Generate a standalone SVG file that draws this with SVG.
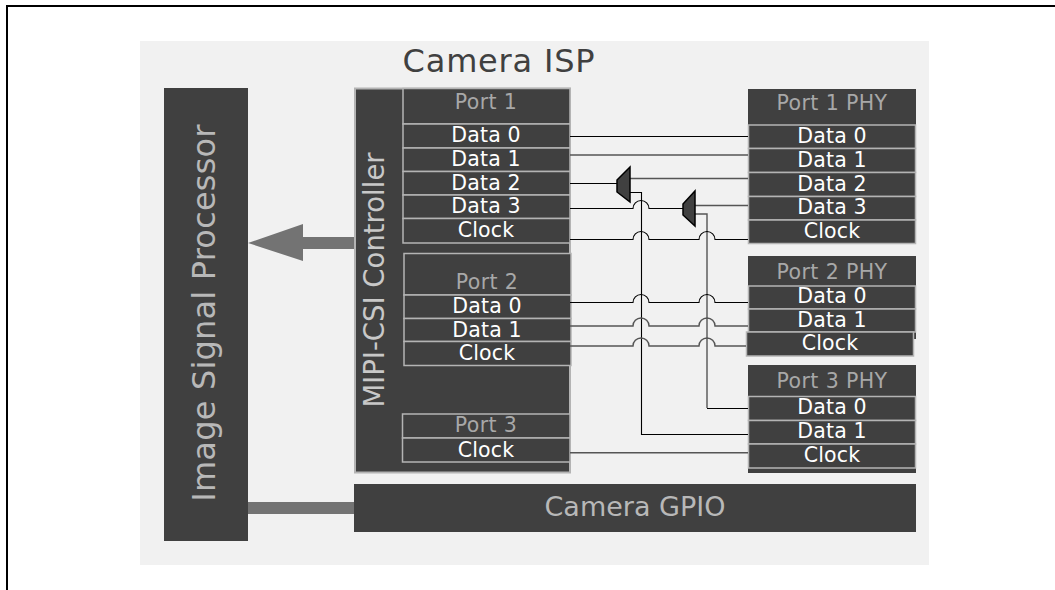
<svg xmlns="http://www.w3.org/2000/svg" width="1055" height="590" viewBox="0 0 1055 590">
<style>
text{font-family:"DejaVu Sans",Verdana,sans-serif;text-anchor:middle}
.d{fill:#404040}
.r{fill:#404040;stroke:#b4b4b4;stroke-width:1.5}
.t{fill:#fff;font-size:20.5px;letter-spacing:.2px}
.g{fill:#a8a8a8;font-size:20.5px;letter-spacing:.4px}
.w{fill:none;stroke:#000;stroke-width:1.1}
.w2{fill:none;stroke:#555;stroke-width:1.4}
.m{fill:#404040;stroke:#000;stroke-width:1.5}
</style>
<path d="M7 590V6H1055" fill="none" stroke="#000" stroke-width="2"/>
<rect x="140" y="41" width="789" height="524" fill="#f1f1f1"/>
<text x="499" y="72" font-size="32" letter-spacing=".8" fill="#404040">Camera ISP</text>
<g id="isp"><rect class="d" x="164" y="88" width="84" height="453"/>
<text transform="translate(215 313) rotate(-90)" font-size="32" letter-spacing=".2" fill="#b8b8b8">Image Signal Processor</text></g>
<g id="gpio"><rect class="d" x="354" y="484" width="562" height="48"/>
<text x="635" y="516" font-size="27" fill="#b8b8b8">Camera GPIO</text></g>
<g id="mipi"><rect x="355" y="88.500" width="215" height="384" fill="#404040" stroke="#b4b4b4" stroke-width="2"/>
<text transform="translate(384 280) rotate(-90)" font-size="27.500" fill="#c8c8c8">MIPI-CSI Controller</text></g>
<g id="port1">
<rect class="r" x="403" y="88.500" width="167" height="35.500"/>
<rect class="r" x="403" y="124" width="167" height="24"/>
<rect class="r" x="403" y="148" width="167" height="23.500"/>
<rect class="r" x="403" y="171.500" width="167" height="23.500"/>
<rect class="r" x="403" y="195" width="167" height="23.500"/>
<rect class="r" x="403" y="218.500" width="167" height="24.500"/>
<text class="g" x="486" y="109">Port 1</text>
<text class="t" x="486" y="142">Data 0</text><text class="t" x="486" y="166">Data 1</text><text class="t" x="486" y="189.500">Data 2</text><text class="t" x="486" y="213">Data 3</text><text class="t" x="486" y="237">Clock</text>
</g>
<g id="port2">
<rect class="r" x="404" y="253.500" width="167" height="41.500"/>
<rect class="r" x="404" y="295" width="167" height="23.500"/>
<rect class="r" x="404" y="318.500" width="167" height="23"/>
<rect class="r" x="404" y="341.500" width="167" height="24"/>
<text class="g" x="487" y="289">Port 2</text>
<text class="t" x="487" y="313">Data 0</text><text class="t" x="487" y="337">Data 1</text><text class="t" x="487" y="360">Clock</text>
</g>
<g id="port3">
<rect class="r" x="402.500" y="414" width="167.500" height="24"/>
<rect class="r" x="402.500" y="438" width="167.500" height="24"/>
<text class="g" x="486" y="432">Port 3</text>
<text class="t" x="486" y="457">Clock</text>
</g>
<g id="port1phy">
<rect class="d" x="748" y="89" width="168" height="36"/>
<rect class="r" x="748.500" y="125" width="167" height="23.500"/>
<rect class="r" x="748.500" y="148.500" width="167" height="24"/>
<rect class="r" x="748.500" y="172.500" width="167" height="24"/>
<rect class="r" x="748.500" y="196.500" width="167" height="23.500"/>
<rect class="r" x="748.500" y="220" width="167" height="23.500"/>
<text class="g" x="832" y="110">Port 1 PHY</text>
<text class="t" x="832" y="143">Data 0</text><text class="t" x="832" y="167">Data 1</text><text class="t" x="832" y="191">Data 2</text><text class="t" x="832" y="214">Data 3</text><text class="t" x="832" y="238">Clock</text>
</g>
<g id="port2phy">
<rect class="d" x="748" y="256" width="168" height="83"/>
<rect class="r" x="748.500" y="286" width="167" height="23"/>
<rect class="r" x="748.500" y="309" width="167" height="23"/>
<rect class="r" x="746.500" y="332" width="167" height="24"/>
<text class="g" x="832" y="279">Port 2 PHY</text>
<text class="t" x="832" y="303">Data 0</text><text class="t" x="832" y="327">Data 1</text><text class="t" x="830" y="350">Clock</text>
</g>
<g id="port3phy">
<rect class="d" x="748" y="365" width="168" height="108"/>
<rect class="r" x="748.500" y="396.500" width="167" height="24"/>
<rect class="r" x="748.500" y="420.500" width="167" height="23.500"/>
<rect class="r" x="748.500" y="444" width="167" height="24"/>
<text class="g" x="832" y="388">Port 3 PHY</text>
<text class="t" x="832" y="414">Data 0</text><text class="t" x="832" y="438">Data 1</text><text class="t" x="832" y="462">Clock</text>
</g>
<g id="connectors">
<path class="w" d="M570 136.500H748"/>
<path class="w2" d="M570 155H748"/>
<path class="w" d="M570 183.500H617"/>
<path class="w2" d="M630 178.500H748"/>
<path class="w" d="M570 208.500H633a8 8 0 0 1 16 0H683"/>
<path class="w2" d="M695 205.500H748"/>
<path class="w" d="M630 192.500H641.500V434.500H748"/>
<path class="w2" d="M695 214H707V408"/>
<path class="w" d="M707 408.500H748"/>
<path class="w" d="M570 239.500H633a8 8 0 0 1 16 0H699a8 8 0 0 1 16 0H748"/>
<path class="w" d="M570 302.500H633a8 8 0 0 1 16 0H699a8 8 0 0 1 16 0H748"/>
<path class="w2" d="M570 326H633a8 8 0 0 1 16 0H699a8 8 0 0 1 16 0H748"/>
<path class="w2" d="M570 346H633a8 8 0 0 1 16 0H699a8 8 0 0 1 16 0H746"/>
<path class="w2" d="M570 452.700H748"/>
<polygon class="m" points="617,180 630,167 630,202 617,192"/>
<polygon class="m" points="683,204 695,191 695,226 683,215"/>
<polygon fill="#737373" points="354,237 303,237 303,224 248,243 303,261 303,249 354,249"/>
<rect x="248" y="502" width="106" height="12" fill="#737373"/>
</g>
</svg>
